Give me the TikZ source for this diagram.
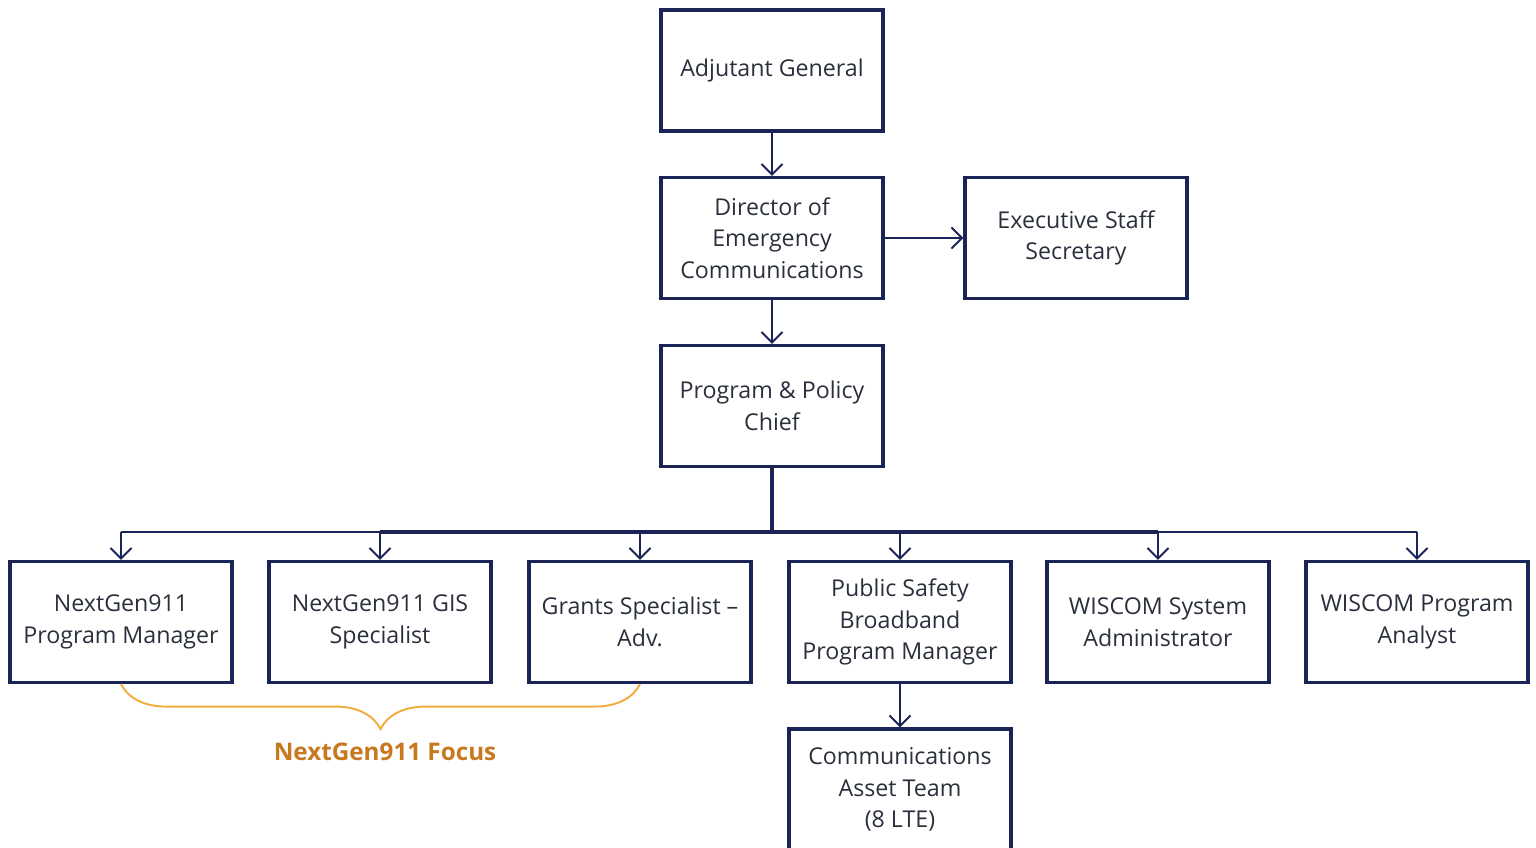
\documentclass[tikz,border=0pt]{standalone}
\usepackage{fontspec}
\setmainfont{Open Sans}
\usetikzlibrary{arrows.meta, positioning, calc, decorations.pathreplacing}

\definecolor{navy}{HTML}{1B2456}
\definecolor{bracegold}{HTML}{F2AC3E}
\definecolor{focusorange}{HTML}{C8781E}
\definecolor{roletext}{HTML}{2A2F3C}

\begin{document}
\begin{tikzpicture}[
    x=0.02cm, y=-0.02cm,
    role/.style={rectangle, draw=navy, line width=1.8pt, minimum width=4.44cm, minimum height=2.42cm, text centered, align=center, inner sep=0pt, text=roletext, font=\fontsize{13.2}{17.9}\selectfont},
    arrow/.style={draw=navy, line width=1.1pt, -{Straight Barb[length=6pt, width=12pt]}},
    bus/.style={draw=navy, line width=1.1pt},
    trunk/.style={draw=navy, line width=2.3pt},
    focusbrace/.style={draw=bracegold, line width=1.1pt, decorate, decoration={brace, mirror, amplitude=0.9cm}}
]
\clip (0,0) rectangle (1536,848);

% Top of the chart
\node[role] (adj) at (772,70.5) {Adjutant General};
\node[role] (dir) at (772,238) {Director of\\Emergency\\Communications};
\node[role] (exec) at (1076,238) {Executive Staff\\Secretary};
\node[role] (chief) at (772,406) {Program \& Policy\\Chief};

% Staff row
\node[role] (pm) at (121,622) {NextGen911\\Program Manager};
\node[role] (gis) at (380,622) {NextGen911 GIS\\Specialist};
\node[role] (grants) at (640,622) {Grants Specialist --\\Adv.};
\node[role] (psb) at (900,622) {Public Safety\\Broadband\\Program Manager};
\node[role] (sysadm) at (1158,622) {WISCOM System\\Administrator};
\node[role] (analyst) at (1417,622) {WISCOM Program\\Analyst};
\node[role] (asset) at (900,789.5) {Communications\\Asset Team\\(8 LTE)};

\coordinate (busmid) at (772,532);

% Connectors
\draw[arrow] (adj.south) -- (dir.north);
\draw[arrow] (dir.east) -- (exec.west);
\draw[arrow] (dir.south) -- (chief.north);
\draw[bus] (busmid -| pm.north) -- (busmid -| analyst.north);
\draw[trunk] (busmid -| gis.north) -- (busmid -| sysadm.north);
\draw[trunk] (chief.south) -- (busmid);
\foreach \n in {pm, gis, grants, psb, sysadm, analyst}
    \draw[arrow] (busmid -| \n.north) -- (\n.north);
\draw[arrow] (psb.south) -- (asset.north);

% NextGen911 group
\draw[focusbrace] (pm.south) -- (grants.south);
\node[font=\fontsize{13.8}{16}\selectfont\bfseries, text=focusorange] (focus) at (385,752) {NextGen911 Focus};

\end{tikzpicture}
\end{document}
